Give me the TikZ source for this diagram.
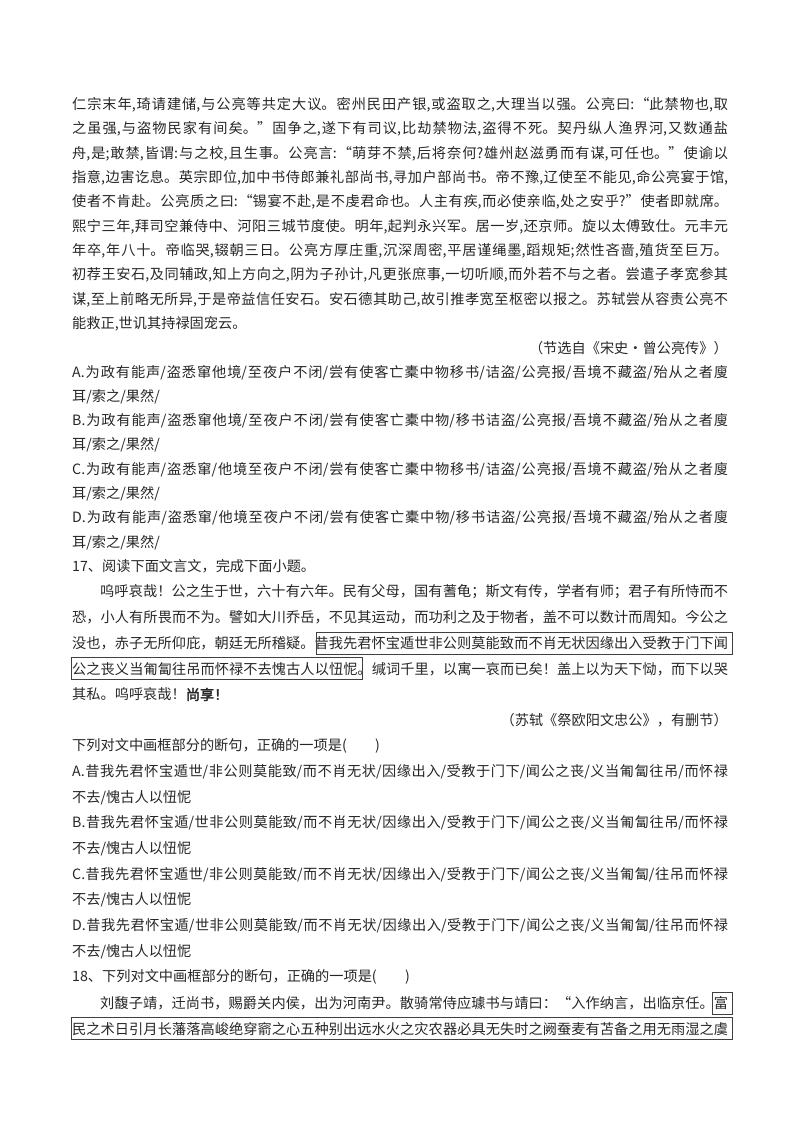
\documentclass[tikz,border=0pt]{standalone}
\usepackage{fontspec}
\setmainfont{Noto Sans CJK SC}[AutoFakeBold=2.5]
\XeTeXlinebreaklocale "zh"
\XeTeXlinebreakskip=0pt plus 4pt minus 0.3pt
\newcommand\jl[1]{\parbox{656pt}{\parindent0pt\parfillskip0pt\emergencystretch20pt\relax #1}}
\newcommand\ji[1]{\parbox{628pt}{\parindent0pt\parfillskip0pt\emergencystretch20pt\relax #1}}
\begin{document}
\begin{tikzpicture}[x=1pt,y=-1pt,
  txt/.style={anchor=west,inner sep=0pt,font=\fontsize{14.2pt}{16pt}\selectfont,text=black!85},
  rtxt/.style={anchor=east,inner sep=0pt,font=\fontsize{14.2pt}{16pt}\selectfont,text=black!85},
  frame/.style={draw=black!75,line width=0.8pt}]
\useasboundingbox (0,0) rectangle (800,1132);
\def\L#1{105+24.3*#1}
\def\M#1{566+25.7*(#1-19)}
\node[txt] (p0) at (72,{\L{0}}) {\jl{仁宗末年,琦请建储,与公亮等共定大议。密州民田产银,或盗取之,大理当以强。公亮曰:“此禁物也,取}};
\node[txt] (p1) at (72,{\L{1}}) {\jl{之虽强,与盗物民家有间矣。”固争之,遂下有司议,比劫禁物法,盗得不死。契丹纵人渔界河,又数通盐}};
\node[txt] (p2) at (72,{\L{2}}) {\jl{舟,是;敢禁,皆谓:与之校,且生事。公亮言:“萌芽不禁,后将奈何?雄州赵滋勇而有谋,可任也。”使谕以}};
\node[txt] (p3) at (72,{\L{3}}) {\jl{指意,边害讫息。英宗即位,加中书侍郎兼礼部尚书,寻加户部尚书。帝不豫,辽使至不能见,命公亮宴于馆,}};
\node[txt] (p4) at (72,{\L{4}}) {\jl{使者不肯赴。公亮质之曰:“锡宴不赴,是不虔君命也。人主有疾,而必使亲临,处之安乎?”使者即就席。}};
\node[txt] (p5) at (72,{\L{5}}) {\jl{熙宁三年,拜司空兼侍中、河阳三城节度使。明年,起判永兴军。居一岁,还京师。旋以太傅致仕。元丰元}};
\node[txt] (p6) at (72,{\L{6}}) {\jl{年卒,年八十。帝临哭,辍朝三日。公亮方厚庄重,沉深周密,平居谨绳墨,蹈规矩;然性吝啬,殖货至巨万。}};
\node[txt] (p7) at (72,{\L{7}}) {\jl{初荐王安石,及同辅政,知上方向之,阴为子孙计,凡更张庶事,一切听顺,而外若不与之者。尝遣子孝宽参其}};
\node[txt] (p8) at (72,{\L{8}}) {\jl{谋,至上前略无所异,于是帝益信任安石。安石德其助己,故引推孝宽至枢密以报之。苏轼尝从容责公亮不}};
\node[txt] (p9) at (72,{\L{9}}) {能救正,世讥其持禄固宠云。};
\node[rtxt] (s1) at (728,{\L{10}}) {（节选自《宋史·曾公亮传》）};
\node[txt] (a1) at (72,{\L{11}}) {\jl{A.为政有能声/盗悉窜他境/至夜户不闭/尝有使客亡橐中物移书/诘盗/公亮报/吾境不藏盗/殆从之者廋}};
\node[txt] (a2) at (72,{\L{12}}) {耳/索之/果然/};
\node[txt] (b1) at (72,{\L{13}}) {\jl{B.为政有能声/盗悉窜他境/至夜户不闭/尝有使客亡橐中物/移书诘盗/公亮报/吾境不藏盗/殆从之者廋}};
\node[txt] (b2) at (72,{\L{14}}) {耳/索之/果然/};
\node[txt] (c1) at (72,{\L{15}}) {\jl{C.为政有能声/盗悉窜/他境至夜户不闭/尝有使客亡橐中物移书/诘盗/公亮报/吾境不藏盗/殆从之者廋}};
\node[txt] (c2) at (72,{\L{16}}) {耳/索之/果然/};
\node[txt] (d1) at (72,{\L{17}}) {\jl{D.为政有能声/盗悉窜/他境至夜户不闭/尝有使客亡橐中物/移书诘盗/公亮报/吾境不藏盗/殆从之者廋}};
\node[txt] (d2) at (72,{\L{18}}) {耳/索之/果然/};
\node[txt] (q17) at (72,{\M{19}}) {17、阅读下面文言文，完成下面小题。};
\node[txt] (r0) at (100,{\M{20}}) {\ji{呜呼哀哉！公之生于世，六十有六年。民有父母，国有蓍龟；斯文有传，学者有师；君子有所恃而不}};
\node[txt] (r1) at (72,{\M{21}}) {\jl{恐，小人有所畏而不为。譬如大川乔岳，不见其运动，而功利之及于物者，盖不可以数计而周知。今公之}};
\node[txt] (r2) at (72,{\M{22}}) {\jl{没也，赤子无所仰庇，朝廷无所稽疑。昔我先君怀宝遁世非公则莫能致而不肖无状因缘出入受教于门下闻}};
\node[txt] (r3) at (72,{\M{23}}) {\jl{公之丧义当匍匐往吊而怀禄不去愧古人以忸怩。缄词千里，以寓一哀而已矣！盖上以为天下恸，而下以哭}};
\node[txt] (r4) at (72,{\M{24}}) {其私。呜呼哀哉！\textbf{尚享！}};
\node[rtxt] (s2) at (728,{\M{25}}) {（苏轼《祭欧阳文忠公》，有删节）};
\node[txt] (q) at (72,{\M{26}}) {下列对文中画框部分的断句，正确的一项是(\hspace{2em})};
\node[txt] (e1) at (72,{\M{27}}) {\jl{A.昔我先君怀宝遁世/非公则莫能致/而不肖无状/因缘出入/受教于门下/闻公之丧/义当匍匐往吊/而怀禄}};
\node[txt] (e2) at (72,{\M{28}}) {不去/愧古人以忸怩};
\node[txt] (f1) at (72,{\M{29}}) {\jl{B.昔我先君怀宝遁/世非公则莫能致/而不肖无状/因缘出入/受教于门下/闻公之丧/义当匍匐往吊/而怀禄}};
\node[txt] (f2) at (72,{\M{30}}) {不去/愧古人以忸怩};
\node[txt] (g1) at (72,{\M{31}}) {\jl{C.昔我先君怀宝遁世/非公则莫能致/而不肖无状/因缘出入/受教于门下/闻公之丧/义当匍匐/往吊而怀禄}};
\node[txt] (g2) at (72,{\M{32}}) {不去/愧古人以忸怩};
\node[txt] (h1) at (72,{\M{33}}) {\jl{D.昔我先君怀宝遁/世非公则莫能致/而不肖无状/因缘出入/受教于门下/闻公之丧/义当匍匐/往吊而怀禄}};
\node[txt] (h2) at (72,{\M{34}}) {不去/愧古人以忸怩};
\node[txt] (q18) at (72,{\M{35}}) {18、下列对文中画框部分的断句，正确的一项是(\hspace{2em})};
\node[txt] (t0) at (100,{\M{36}}) {\ji{刘馥子靖，迁尚书，赐爵关内侯，出为河南尹。散骑常侍应璩书与靖曰：“入作纳言，出临京任。富}};
\node[txt] (t1) at (72,{\M{37}}) {\jl{民之术日引月长藩落高峻绝穿窬之心五种别出远水火之灾农器必具无失时之阙蚕麦有苫备之用无雨湿之虞}};
\draw[frame] (316,{\M{22}-11}) rectangle (732,{\M{22}+11});
\draw[frame] (71,{\M{23}-11}) rectangle (362,{\M{23}+11});
\draw[frame] (712,{\M{36}-11}) rectangle (732,{\M{36}+11});
\draw[frame] (71,{\M{37}-11}) rectangle (732,{\M{37}+11});
\end{tikzpicture}
\end{document}
